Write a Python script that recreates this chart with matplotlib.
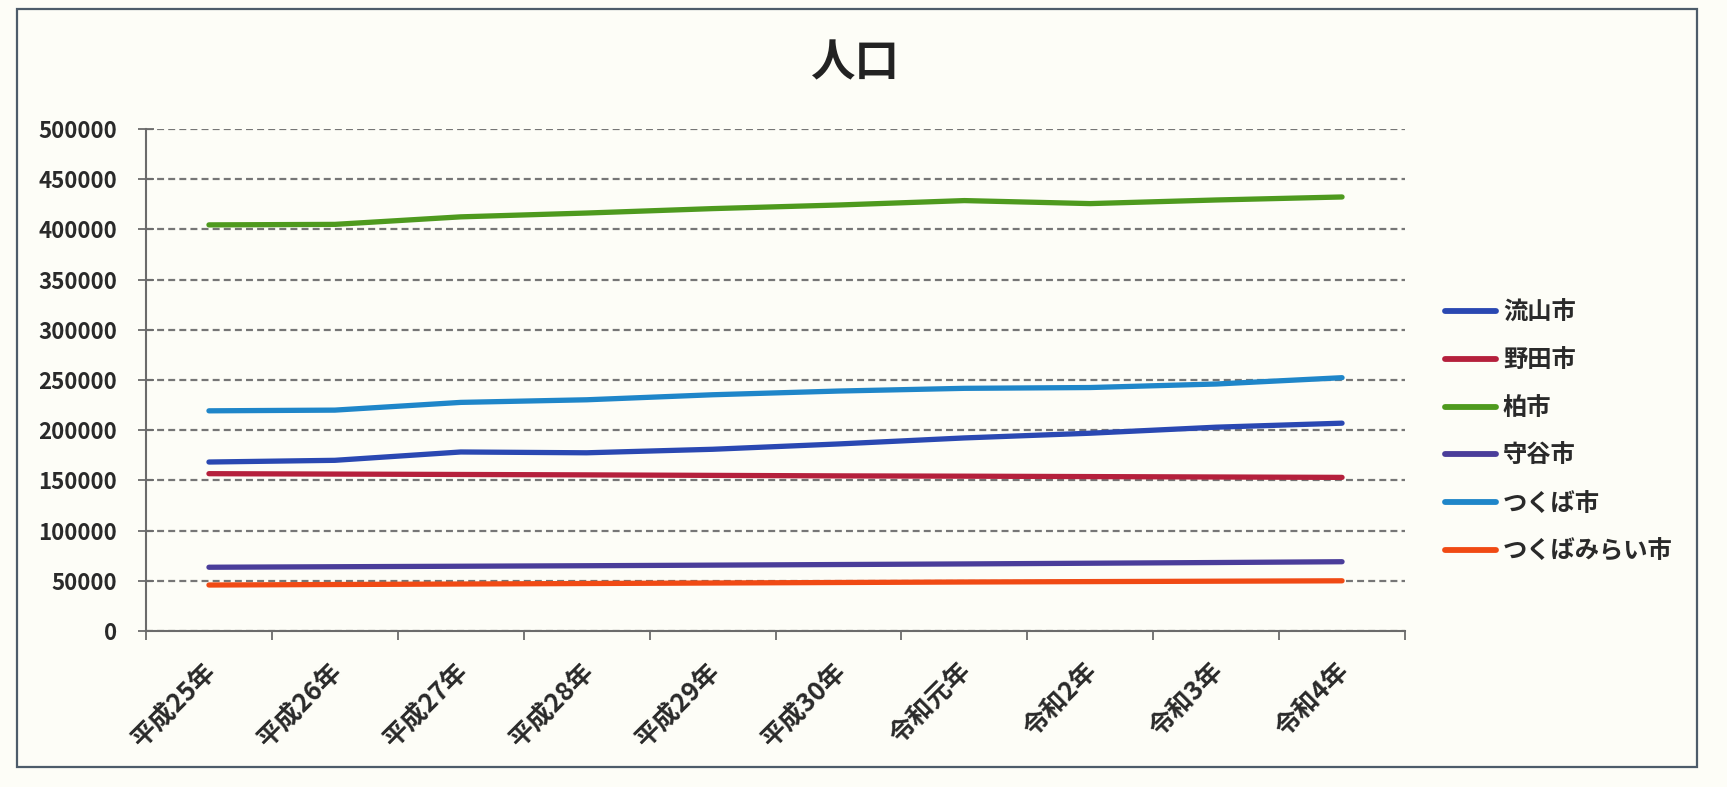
import matplotlib
matplotlib.use("Agg")
import matplotlib.pyplot as plt
from matplotlib.patches import Rectangle
from matplotlib.transforms import ScaledTranslation
import numpy as np

plt.rcParams['font.family'] = ['Noto Sans CJK JP', 'DejaVu Sans']
plt.rcParams['lines.scale_dashes'] = False

# ---- data ----
years = ['平成25年', '平成26年', '平成27年', '平成28年', '平成29年',
         '平成30年', '令和元年', '令和2年', '令和3年', '令和4年']
nagareyama = [168300, 170000, 178300, 177500, 181000, 186300, 192300, 197000, 203000, 207000]
noda = [156700, 156300, 155900, 155500, 155000, 154500, 154200, 153800, 153400, 153000]
kashiwa = [404500, 405000, 412500, 416300, 420700, 424300, 428700, 425700, 429300, 432300]
moriya = [63500, 64000, 64500, 65000, 65600, 66200, 66800, 67500, 68200, 69000]
tsukuba = [219300, 220000, 227700, 230300, 235300, 239000, 241700, 242500, 246000, 252300]
tsukubamirai = [45800, 46300, 46800, 47300, 47800, 48300, 48800, 49200, 49600, 50000]

series_names = ['流山市', '野田市', '柏市', '守谷市', 'つくば市', 'つくばみらい市']
series_values = [nagareyama, noda, kashiwa, moriya, tsukuba, tsukubamirai]
series_colors = ['#2a48b2', '#b5203c', '#4e9a1e', '#4a3d9a', '#1f86c9', '#f04a14']

y_ticks = list(range(0, 500001, 50000))

# ---- figure ----
W, H = 1727, 787
bg = '#fdfdf7'
fig = plt.figure(figsize=(W / 100, H / 100), dpi=100, facecolor=bg)

ax_left, ax_right, ax_top, ax_bottom = 146, 1405, 129, 631
ax = fig.add_axes([ax_left / W, 1 - ax_bottom / H,
                   (ax_right - ax_left) / W, (ax_bottom - ax_top) / H])
ax.set_facecolor(bg)

x = np.arange(len(years))
for name, vals, col in zip(series_names, series_values, series_colors):
    ax.plot(x, vals, color=col, lw=3.8, label=name,
            solid_capstyle='round', solid_joinstyle='round', zorder=3)

ax.set_xlim(-0.5, len(years) - 0.5)
ax.set_ylim(0, 500000)
ax.set_yticks(y_ticks)
ax.set_yticklabels([str(v) for v in y_ticks])

ax.yaxis.grid(True, linestyle=(0, (5, 3)), color='#767676', lw=1.6, zorder=1)
ax.xaxis.grid(False)
ax.set_axisbelow(True)

for s in ['top', 'right']:
    ax.spines[s].set_visible(False)
for s in ['left', 'bottom']:
    ax.spines[s].set_color('#6b6b6b')
    ax.spines[s].set_linewidth(1.5)

ax.tick_params(axis='y', direction='inout', length=11.5, width=1.3,
               color='#6b6b6b', labelsize=16, pad=15, labelcolor='#2a2a2a')
for lbl in ax.get_yticklabels():
    lbl.set_fontweight('bold')

ax.set_xticks(x)
ax.set_xticklabels(years)
ax.set_xticks(np.arange(-0.5, len(years)), minor=True)
ax.tick_params(axis='x', which='major', length=0, pad=26, labelsize=18.5,
               labelcolor='#2a2a2a')
ax.tick_params(axis='x', which='minor', direction='out', length=6.5,
               width=1.3, color='#6b6b6b')
for lbl in ax.get_xticklabels():
    lbl.set_rotation(45)
    lbl.set_ha('right')
    lbl.set_va('center')
    lbl.set_rotation_mode('anchor')
    lbl.set_fontweight('bold')
    lbl.set_transform(lbl.get_transform() +
                      ScaledTranslation(0.03, 0, fig.dpi_scale_trans))

# title
fig.text(855 / W, 1 - 63 / H, '人口', ha='center', va='center',
         fontsize=32, fontweight='bold', color='#222222')

# legend
leg = fig.legend(loc='center left', bbox_to_anchor=(1445 / W, 1 - 432 / H),
                 frameon=False, fontsize=17.5, handlelength=2.1,
                 handletextpad=0.28, labelspacing=0.98, borderpad=0,
                 borderaxespad=0)
for t in leg.get_texts():
    t.set_fontweight('bold')
    t.set_color('#2a2a2a')
for h in leg.get_lines():
    h.set_linewidth(4.2)

# outer frame
fig.patches.append(Rectangle((17 / W, 1 - 767 / H), (1697 - 17) / W,
                             (767 - 9) / H, transform=fig.transFigure,
                             fill=False, edgecolor='#4d5c6a', lw=1.6))

fig.savefig('out.png', dpi=100, facecolor=bg)
